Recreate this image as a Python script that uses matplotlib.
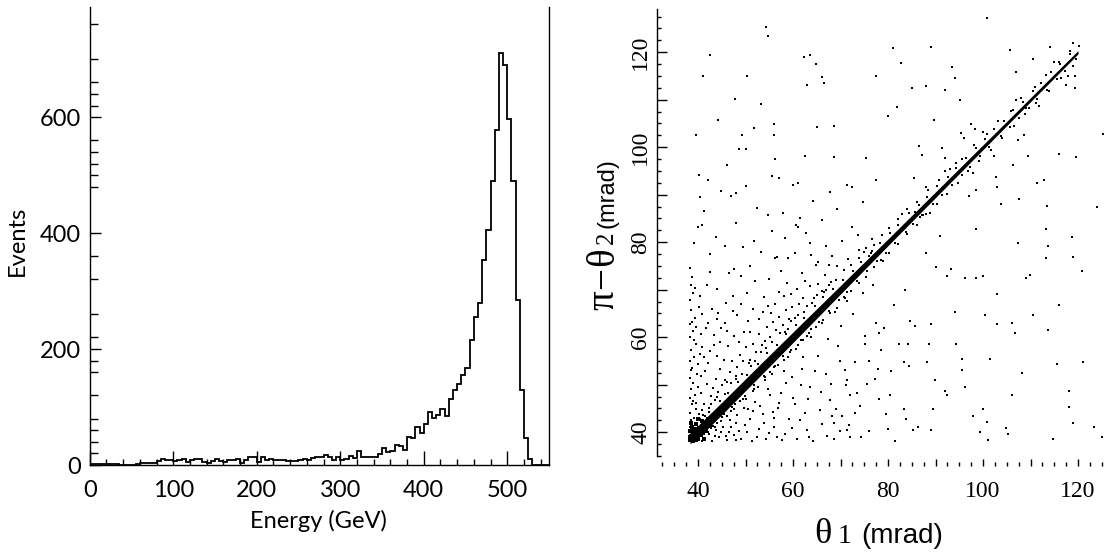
import numpy as np
import matplotlib.pyplot as plt
from matplotlib.ticker import MultipleLocator, FixedLocator, FuncFormatter

W, H = 1109, 552

# ---- left panel: energy histogram, 5 GeV bins from 0 to 550 GeV
bin_width = 5
energy_counts = [
    1, 1, 1, 1, 1, 1, 2, 0, 0, 0,
    0, 2, 3, 3, 3, 4, 7, 11, 9, 8,
    7, 9, 10, 6, 9, 10, 10, 6, 4, 7,
    10, 7, 5, 8, 9, 11, 4, 9, 13, 13,
    5, 14, 9, 10, 9, 8, 8, 7, 7, 7,
    9, 11, 9, 12, 13, 13, 18, 14, 9, 14,
    8, 10, 15, 12, 25, 14, 14, 14, 14, 19,
    30, 22, 24, 35, 33, 26, 48, 47, 65, 55,
    71, 92, 81, 87, 97, 84, 113, 129, 139, 156,
    167, 216, 255, 280, 353, 406, 490, 578, 711, 690,
    596, 490, 284, 129, 46, 10, 0, 0, 0, 0,
]
hist_minor_y = [20, 40, 60, 80, 120, 160, 180, 220, 260, 320, 360,
                480, 500, 520, 540, 560, 620, 640, 660, 700, 760]

# ---- right panel: theta1 vs pi - theta2 (mrad)
# core of the diagonal band: centre and half width
band_theta1 = [38.3, 40, 45, 50, 55, 60, 65, 70, 75, 80, 85, 90, 95, 100, 105, 110, 115, 120]
band_center = [39.0, 40.1, 45.0, 50.0, 55.0, 60.0, 65.0, 70.0, 75.0, 80.0, 85.0, 90.0, 95.0,
               100.0, 105.0, 110.0, 115.0, 120.0]
band_half = [1.4, 1.35, 1.3, 1.25, 1.2, 1.1, 1.0, 0.9, 0.8, 0.7, 0.65, 0.6, 0.55,
             0.5, 0.45, 0.42, 0.4, 0.35]

corner_pts = [(38.4, 38.3), (38.9, 38.2), (39.5, 38.4), (40.1, 38.6), (38.5, 39.2), (39.8, 39.0),
              (40.6, 39.4), (38.3, 40.2), (39.2, 40.6), (40.3, 40.9), (38.7, 41.0), (41.0, 39.9),
              (41.4, 41.6), (40.9, 42.3), (39.6, 41.8), (38.4, 38.9), (41.7, 40.4), (42.1, 42.8),
              (38.5, 41.9), (41.2, 38.5), (40.0, 42.7), (42.6, 41.3)]

halo_pts = [(40.5, 42.8), (41.7, 40.0), (42.4, 44.3), (43.2, 41.4), (44.6, 46.5), (45.5, 43.8),
            (46.3, 48.2), (47.8, 45.9), (48.5, 50.6), (49.9, 47.7), (50.4, 52.1), (51.7, 50.0),
            (52.6, 54.3), (53.9, 51.8), (54.5, 56.6), (55.9, 53.7), (56.6, 58.4), (57.8, 56.0),
            (58.6, 60.7), (59.5, 57.4), (60.7, 62.6), (61.6, 59.5), (62.4, 64.1), (63.7, 61.8),
            (64.6, 66.5), (65.5, 63.3), (66.3, 68.4), (67.6, 65.5), (68.4, 70.2), (69.7, 67.9),
            (70.5, 72.1), (71.4, 69.6), (72.6, 74.0), (73.5, 71.8), (74.3, 75.9), (75.6, 73.9),
            (76.4, 77.8), (77.7, 76.0), (78.3, 79.9), (79.6, 77.8), (80.5, 82.0), (81.4, 79.9),
            (82.2, 83.7), (83.7, 82.1), (84.5, 86.1), (85.3, 83.9), (86.6, 87.9), (87.4, 85.8),
            (88.2, 89.6), (89.5, 88.0), (90.4, 91.8), (91.3, 89.9), (92.6, 93.7), (93.4, 92.0),
            (94.3, 95.6), (95.5, 94.1), (96.4, 97.7), (97.2, 95.9), (98.6, 99.8), (99.4, 98.2),
            (100.5, 101.7), (101.3, 100.0), (102.4, 103.9), (103.7, 102.3), (104.4, 105.6),
            (105.6, 104.2), (106.3, 107.8), (107.5, 106.1), (108.4, 109.5), (109.6, 108.3),
            (110.5, 111.9), (111.4, 110.2), (112.3, 113.6), (113.5, 112.1), (114.4, 115.8),
            (115.6, 114.3), (116.2, 117.6), (117.3, 116.0), (118.4, 119.7), (119.5, 118.6),
            (120.3, 121.4), (119.0, 121.9), (117.8, 115.1), (115.0, 117.9), (111.8, 108.7),
            (106.9, 109.9), (100.0, 103.3), (97.8, 94.6), (92.0, 95.0), (88.8, 86.2), (83.0, 86.0),
            (78.9, 76.1), (74.9, 78.0), (70.9, 68.2), (66.9, 70.0), (63.0, 60.3), (59.0, 61.8),
            (55.1, 52.7), (51.2, 53.9), (47.0, 44.5),
            (41.0, 43.6), (42.8, 45.9), (44.1, 47.4), (45.7, 48.0), (46.9, 50.3), (48.1, 51.9),
            (49.3, 52.2), (50.8, 54.6), (52.0, 55.0), (53.2, 56.9), (54.4, 57.7), (55.6, 59.1),
            (57.3, 60.8), (58.4, 61.2), (59.6, 63.5), (61.1, 64.7), (62.3, 65.4), (63.9, 67.2),
            (65.0, 68.9), (66.6, 69.5), (67.9, 71.6), (69.1, 72.0), (70.7, 74.2), (72.2, 75.3),
            (73.9, 76.6), (75.3, 78.7), (77.0, 79.4), (78.8, 81.6), (80.2, 82.9), (82.0, 84.8),
            (84.1, 86.9), (86.0, 88.5), (88.4, 90.9), (90.7, 93.0), (93.1, 95.4), (95.6, 97.5),
            (98.0, 100.4), (100.9, 102.8), (103.2, 105.5), (105.8, 107.6), (108.1, 110.3),
            (110.9, 112.6), (113.2, 115.3), (116.0, 117.9), (118.3, 120.2),
            (42.0, 40.1), (43.5, 41.0), (44.9, 42.3), (46.2, 43.5), (47.6, 44.8), (48.9, 46.6),
            (50.2, 47.1), (51.5, 48.7), (52.7, 49.5), (54.2, 51.0), (55.5, 52.3), (56.8, 54.1),
            (58.1, 55.2), (59.4, 56.9), (60.6, 57.6), (62.0, 59.4), (63.4, 60.9), (64.9, 62.1),
            (66.4, 63.7), (67.7, 65.0), (69.3, 66.2), (70.8, 68.4), (72.3, 69.7), (73.8, 71.4),
            (75.4, 72.6), (77.1, 74.7), (78.6, 76.2), (80.3, 77.7), (82.1, 79.6), (84.0, 81.8),
            (86.2, 83.7), (88.1, 85.9), (90.3, 88.1), (92.4, 90.2), (94.8, 92.5), (96.9, 94.9),
            (99.2, 97.0), (101.6, 99.5), (104.1, 102.0), (106.5, 104.4), (108.9, 107.0),
            (111.2, 109.4), (113.8, 111.9), (116.4, 114.5), (118.9, 117.2)]

cluster_pts = [
    # strip along the theta1 cut
    (38.3, 41.2), (38.6, 42.5), (39.1, 43.0), (38.4, 44.1), (39.6, 44.8), (38.8, 45.9), (38.3, 47.2),
    (39.4, 47.8), (38.6, 49.0), (39.0, 50.3), (38.4, 51.5), (39.7, 52.2), (38.7, 53.6), (38.3, 55.0),
    (39.2, 55.9), (38.5, 57.3), (39.5, 58.6), (38.4, 60.1), (38.9, 61.4), (38.3, 62.8), (39.3, 64.0),
    (38.6, 65.7), (38.4, 67.9), (39.0, 69.3), (38.5, 71.0), (38.8, 72.6), (38.4, 74.5), (39.8, 41.8),
    (40.3, 43.9), (38.9, 46.6), (40.1, 49.5), (38.5, 53.0), (40.4, 56.5), (39.1, 59.5), (38.7, 63.3),
    (40.2, 66.4), (39.5, 46.1), (40.7, 51.8), (39.9, 54.3), (40.6, 60.7), (39.6, 62.2), (40.9, 64.9),
    (40.4, 68.6), (39.4, 70.4),
    # above the band
    (40.8, 44.6), (41.2, 46.0), (41.5, 43.5), (40.6, 48.2), (41.9, 50.1), (42.3, 45.2), (42.7, 47.6),
    (41.4, 52.8), (43.1, 49.3), (42.0, 54.6), (43.6, 46.8), (44.2, 48.5), (43.8, 51.2), (42.6, 57.2),
    (44.7, 53.4), (45.1, 49.9), (45.6, 51.0), (44.1, 56.0), (46.2, 50.5), (46.8, 52.7), (45.4, 55.3),
    (43.3, 60.4), (47.1, 54.9), (47.9, 51.3), (46.4, 58.1), (48.3, 53.7), (48.8, 56.2), (47.6, 60.3),
    (44.9, 62.0), (49.4, 55.0), (50.1, 57.9), (49.7, 61.2), (51.0, 55.3), (51.6, 58.6), (50.6, 63.5),
    (52.3, 56.8), (52.8, 60.7), (53.4, 58.3), (48.2, 64.6), (54.1, 59.2), (54.6, 62.1), (53.7, 65.4),
    (55.2, 60.0), (55.8, 63.3), (56.4, 61.6), (57.1, 64.2), (56.2, 67.0), (57.9, 62.5), (58.5, 65.8),
    (59.2, 63.9), (58.0, 68.6), (59.8, 66.4), (60.4, 64.1), (61.3, 66.9), (60.8, 70.2), (62.1, 68.3),
    (62.9, 66.5), (63.6, 70.8), (64.4, 68.2), (65.2, 71.3), (66.1, 69.8), (66.8, 73.0), (67.5, 71.0),
    (42.9, 66.0), (45.8, 67.3), (44.0, 70.1), (47.3, 68.7), (50.3, 69.4), (52.1, 71.9), (49.0, 72.8),
    (55.0, 72.2), (53.8, 68.4), (57.5, 73.9), (46.5, 73.5), (41.8, 70.9), (42.5, 73.7), (51.5, 66.0),
    (54.8, 66.5), (58.8, 71.5), (61.9, 73.6), (64.8, 75.2), (69.3, 74.9), (68.2, 77.1), (71.6, 76.4),
    (60.5, 77.7), (56.7, 76.8), (63.5, 79.9), (70.4, 80.3), (73.8, 78.4), (66.9, 79.2), (44.6, 58.9),
    (46.0, 61.4), (48.7, 59.1), (40.9, 58.0), (41.6, 61.9), (43.9, 63.8),
    (41.3, 55.9), (43.4, 58.3), (42.2, 62.9), (44.3, 65.2), (45.6, 63.0), (47.4, 65.6), (49.1, 67.0),
    (50.9, 61.0), (52.9, 63.8), (55.4, 65.0), (57.0, 69.6), (59.6, 69.0), (62.5, 71.9),
    (41.3, 86.5), (43.7, 81.2), (47.9, 84.0), (52.5, 87.3), (55.6, 82.4), (58.3, 80.9), (44.8, 90.8),
    (50.2, 91.9), (53.3, 77.9), (39.2, 79.8), (42.0, 93.1), (46.1, 96.3), (57.8, 86.1), (61.5, 85.0),
    (64.3, 88.7), (62.8, 81.9), (66.0, 84.6), (69.2, 87.0), (72.4, 83.3), (74.7, 88.4),
    # below the band
    (41.5, 38.4), (42.3, 39.6), (43.0, 38.2), (43.8, 40.5), (44.5, 38.9), (45.3, 41.2), (46.1, 38.3),
    (46.8, 42.6), (47.5, 39.4), (48.3, 43.7), (49.0, 38.6), (49.8, 41.5), (50.6, 44.9), (51.3, 38.2),
    (52.0, 46.3), (52.9, 40.6), (53.6, 43.8), (54.4, 38.5), (55.2, 47.9), (56.0, 41.2), (56.9, 45.1),
    (57.7, 38.3), (58.5, 50.3), (59.2, 42.8), (60.1, 47.2), (60.9, 38.6), (61.8, 53.4), (62.6, 44.0),
    (63.5, 49.6), (64.3, 38.2), (65.2, 56.1), (66.0, 41.7), (66.9, 52.3), (67.8, 46.8), (68.6, 38.5),
    (69.5, 58.2), (70.3, 43.4), (71.2, 49.9), (72.0, 39.1), (73.1, 54.7), (74.0, 45.6), (75.2, 60.3),
    (76.1, 40.2), (77.3, 51.2), (78.5, 57.4), (79.6, 43.9), (45.0, 43.2), (47.2, 45.3), (49.4, 47.1),
    (51.8, 49.0), (54.0, 51.6), (56.3, 53.9), (58.9, 55.8), (61.0, 58.4), (63.8, 60.1), (66.2, 62.9),
    (68.8, 65.3), (71.4, 67.6), (44.0, 41.9), (48.6, 40.3), (50.9, 42.7), (53.1, 45.6), (55.7, 44.3),
    (57.4, 48.2), (59.8, 51.7), (62.1, 55.9), (64.7, 52.8), (67.3, 59.7), (70.1, 62.4), (72.6, 64.8),
    (74.7, 69.3), (76.8, 71.1), (42.7, 40.9), (46.5, 40.1), (52.4, 38.9), (58.3, 39.7), (62.9, 40.4),
    (67.1, 39.2), (71.8, 41.6), (55.0, 39.8), (60.5, 45.9), (65.9, 48.4), (73.5, 48.3), (78.0, 47.0),
    (80.6, 52.9), (82.3, 58.6), (84.7, 63.5), (81.2, 66.8), (79.1, 61.9), (83.5, 70.0), (76.0, 55.0),
    (74.4, 39.0), (69.9, 55.1),
    (44.8, 40.0), (46.9, 41.1), (48.1, 42.0), (50.3, 40.0), (51.6, 44.4), (53.8, 41.9), (55.9, 42.9),
    (57.0, 46.2), (59.7, 40.8), (61.4, 42.5), (63.2, 47.0), (65.6, 44.6), (68.0, 50.1), (69.0, 44.9),
    (70.9, 53.0), (73.0, 44.0), (75.6, 50.2), (77.9, 53.4), (80.0, 40.7), (58.0, 52.9), (61.6, 50.0),
    (54.8, 49.0), (49.6, 45.0), (45.9, 39.2), (47.9, 38.3), (43.6, 39.2), (40.8, 38.2), (56.6, 38.9),
    (63.4, 39.1), (69.8, 40.2),
]

sparse_pts = [
    (100.8, 127.2), (54.3, 125.3), (54.7, 123.4), (81.1, 120.8), (89.1, 121.2), (105.7, 120.4),
    (114.0, 121.2), (42.6, 119.5), (62.3, 119.0), (63.6, 119.5), (82.8, 117.8), (110.6, 118.5),
    (64.8, 117.5), (93.4, 116.8), (41.1, 114.9), (50.3, 114.9), (66.0, 114.7), (77.4, 115.0),
    (94.0, 114.5), (107.0, 115.9), (119.3, 115.1), (63.0, 113.1), (66.6, 113.6), (85.1, 112.5),
    (88.0, 112.9), (117.5, 113.0), (119.4, 112.5), (92.0, 112.0), (47.8, 110.2), (53.2, 109.1),
    (81.9, 108.5), (95.1, 110.0), (109.1, 108.3), (44.2, 105.7), (79.9, 106.6), (89.6, 105.7),
    (51.7, 104.1), (56.1, 104.9), (65.0, 104.2), (68.7, 104.4), (97.4, 104.9), (98.3, 103.8),
    (95.3, 103.0), (125.3, 102.7), (39.6, 102.5), (49.3, 102.5), (56.1, 102.5), (96.0, 101.9),
    (107.4, 101.5), (108.7, 102.5), (48.7, 99.7), (50.0, 99.7), (86.6, 100.2), (91.3, 99.9),
    (56.3, 97.6), (62.5, 98.1), (68.7, 97.9), (75.3, 97.8), (87.2, 98.4), (91.9, 97.8),
    (102.3, 98.1), (109.4, 98.1), (115.9, 98.5), (119.6, 97.9), (94.3, 96.6), (106.4, 96.3),
    (97.2, 95.9), (40.2, 94.2), (55.5, 94.0), (57.0, 93.5), (77.4, 93.2), (85.4, 93.6),
    (102.7, 93.8), (88.0, 91.7), (103.0, 91.7), (60.0, 92.1), (61.1, 92.5), (71.3, 92.1),
    (72.5, 91.7), (67.8, 90.6), (98.5, 91.0), (46.9, 89.8), (48.1, 90.4), (97.0, 89.8),
    (40.5, 89.5), (54.7, 85.7), (85.7, 86.4), (86.8, 85.3), (103.8, 88.0), (113.4, 87.6),
    (124.0, 87.4), (107.6, 89.1), (111.3, 92.5), (112.8, 93.2), (61.0, 83.3), (60.6, 83.6),
    (40.8, 83.6), (40.0, 83.2), (98.5, 82.7), (113.2, 82.7), (91.0, 81.3), (118.7, 81.2),
    (45.7, 79.3), (107.4, 79.8), (113.6, 79.3), (49.4, 79.1), (51.7, 80.3), (76.6, 80.6),
    (76.6, 78.1), (73.6, 81.5), (87.2, 85.7), (42.6, 77.6), (63.8, 77.4), (65.3, 75.9),
    (67.6, 75.3), (75.9, 77.2), (88.0, 77.8), (90.2, 74.7), (119.0, 76.8), (113.2, 76.6),
    (120.8, 74.0), (109.8, 73.2), (47.6, 74.4), (50.9, 75.1), (56.2, 76.6), (58.9, 76.6),
    (92.5, 72.9), (96.2, 72.5), (98.5, 72.5), (100.0, 72.9), (109.1, 72.5), (93.2, 74.4),
    (103.0, 62.7), (106.8, 60.8), (94.3, 58.5), (101.5, 55.5), (95.5, 55.5), (95.5, 53.2),
    (115.5, 54.4), (108.3, 52.5), (121.1, 54.7), (106.0, 47.9), (118.1, 45.3), (123.4, 41.2),
    (125.0, 38.9), (118.9, 41.9), (114.7, 38.5), (104.9, 40.8), (101.1, 38.3), (99.3, 40.0),
    (97.8, 43.4), (92.5, 47.9), (89.4, 44.9), (86.4, 41.2), (85.3, 40.4), (83.4, 44.9),
    (80.4, 47.9), (83.8, 42.7), (81.5, 38.1), (89.1, 40.4), (100.0, 44.9), (88.7, 58.5),
    (85.7, 62.3), (84.2, 58.5), (88.3, 54.7), (83.4, 54.7), (84.5, 53.9), (77.4, 63.1),
    (78.1, 60.8), (75.1, 58.5), (71.3, 51.0), (72.1, 47.9), (68.3, 43.4), (68.7, 41.9),
    (71.3, 40.4), (92.1, 48.7), (96.2, 49.5), (89.8, 51.0), (100.8, 42.2), (105.3, 39.6),
    (100.4, 64.6), (89.1, 62.7), (106.0, 63.1), (94.0, 65.3), (115.9, 66.8), (110.6, 64.6),
    (103.0, 69.1), (113.6, 61.6), (118.1, 48.7),
]

sans = ['Lato', 'DejaVu Sans']
serif = ['Liberation Serif', 'DejaVu Serif']
plain = ['Liberation Sans', 'DejaVu Sans']


def px(x, y):
    # figure pixel (from top-left) -> figure fraction
    return x / W, 1 - y / H


fig = plt.figure(figsize=(W / 100, H / 100), dpi=100)

# ---------------- left: histogram
ax1 = fig.add_axes([89.7 / W, 1 - 465 / H, (549 - 89.7) / W, (465 - 7) / H])
edges = np.arange(len(energy_counts) + 1) * bin_width
ax1.stairs(energy_counts, edges, color='black', lw=1.3)
ax1.set_xlim(0, 550)
ax1.set_ylim(0, 790)
ax1.spines['top'].set_visible(False)
for s in ['left', 'bottom', 'right']:
    ax1.spines[s].set_linewidth(1.0)
ax1.xaxis.set_major_locator(MultipleLocator(100))
ax1.xaxis.set_minor_locator(MultipleLocator(20))
ax1.yaxis.set_major_locator(FixedLocator([0, 200, 400, 600]))
ax1.yaxis.set_minor_locator(FixedLocator(hist_minor_y))
ax1.tick_params(axis='x', which='major', direction='in', length=10, width=1.0, pad=11)
ax1.tick_params(axis='x', which='minor', direction='in', length=4, width=1.0)
ax1.tick_params(axis='y', which='major', direction='in', length=8, width=1.0, pad=6)
ax1.tick_params(axis='y', which='minor', direction='in', length=6, width=1.0)
for lab in ax1.get_xticklabels() + ax1.get_yticklabels():
    lab.set_family(sans)
    lab.set_fontsize(17)
fig.text(*px(318, 521), 'Energy (GeV)', ha='center', va='center', fontsize=17, family=sans)
fig.text(*px(17, 241), 'Events', ha='center', va='center', rotation=90, fontsize=17, family=sans)

# ---------------- right: scatter
ax2 = fig.add_axes([656.7 / W, 1 - 456 / H, (1106.5 - 656.7) / W, (456 - 9) / H])
ax2.fill_between(band_theta1,
                 np.array(band_center) - np.array(band_half),
                 np.array(band_center) + np.array(band_half),
                 color='black', lw=0)
for pts, size in [(corner_pts, 9), (halo_pts, 3.5), (cluster_pts, 2.8), (sparse_pts, 2.8)]:
    xs, ys = zip(*pts)
    ax2.scatter(xs, ys, s=size, marker='s', c='black', linewidths=0)
ax2.set_xlim(31.3, 126)
ax2.set_ylim(35, 129.1)
ax2.spines['top'].set_visible(False)
ax2.spines['right'].set_visible(False)
ax2.spines['left'].set_linewidth(1.0)
ax2.spines['bottom'].set_position(('outward', 7))
ax2.spines['bottom'].set_color('none')

only20 = FuncFormatter(lambda v, p: f'{v:.0f}' if abs(v % 20) < 1e-6 else '')
for axis in (ax2.xaxis, ax2.yaxis):
    axis.set_major_locator(MultipleLocator(10))
    axis.set_minor_locator(MultipleLocator(2.5))
    axis.set_major_formatter(only20)
ax2.tick_params(axis='x', which='major', direction='in', length=5, width=1.0, pad=11)
ax2.tick_params(axis='x', which='minor', direction='in', length=3, width=1.0)
ax2.tick_params(axis='y', which='major', direction='in', length=7, width=1.0, pad=4)
ax2.tick_params(axis='y', which='minor', direction='in', length=3, width=1.0)
for lab in ax2.get_xticklabels():
    lab.set_family(serif)
    lab.set_fontsize(17)
for lab in ax2.get_yticklabels():
    lab.set_family(serif)
    lab.set_fontsize(17)
    lab.set_rotation(90)
    lab.set_va('center')

# x label: theta1 (mrad)
fig.text(*px(814, 543), 'θ', fontsize=26, family=serif, ha='left', va='baseline')
fig.text(*px(838, 543), '1', fontsize=20, family=serif, ha='left', va='baseline')
fig.text(*px(861, 543), '(mrad)', fontsize=20, family=plain, ha='left', va='baseline')

# y label: pi - theta2 (mrad), rotated
ykw = dict(rotation=90, rotation_mode='anchor', ha='left', va='baseline')
fig.text(*px(613, 310), 'π', fontsize=28, family=serif, **ykw)
fig.text(*px(613, 289), '−', fontsize=28, family=serif, **ykw)
fig.text(*px(613, 266), 'θ', fontsize=28, family=serif, **ykw)
fig.text(*px(613, 244), '2', fontsize=18, family=serif, **ykw)
fig.text(*px(613, 228), '(mrad)', fontsize=17, family=plain, **ykw)

fig.savefig('out.png', dpi=100)
